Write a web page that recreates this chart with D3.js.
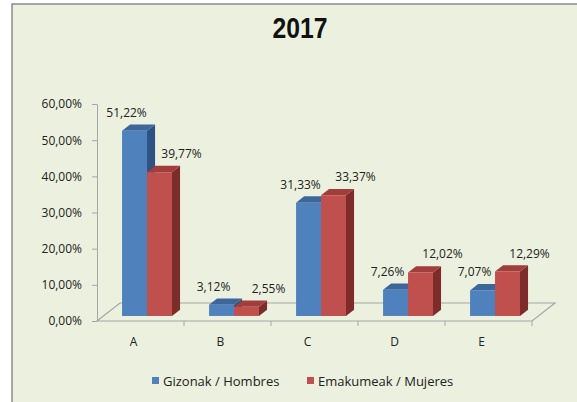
<!DOCTYPE html>
<html>
<head>
<meta charset="utf-8">
<script src="https://cdn.jsdelivr.net/npm/d3@7"></script>
<style>
  body { margin: 0; background: #fff; }
  text { font-family: 'Open Sans', sans-serif; fill: #222; }
</style>
</head>
<body>
<script>
const categories = ['A', 'B', 'C', 'D', 'E'];
const hombres = [51.22, 3.12, 31.33, 7.26, 7.07];
const mujeres = [39.77, 2.55, 33.37, 12.02, 12.29];
const seriesNames = ['Gizonak / Hombres', 'Emakumeak / Mujeres'];
const yTicks = [0, 10, 20, 30, 40, 50, 60];
const title = '2017';

let width = 577, height = 402;
let svg = d3.select('body').append('svg')
  .attr('width', width)
  .attr('height', height);

// chart frame
svg.append('rect')
  .attr('x', 12).attr('y', 4)
  .attr('width', 600).attr('height', 430)
  .attr('fill', '#ebf1de')
  .attr('stroke', '#8a8a8a')
  .attr('stroke-width', 1.5);

svg.append('text')
  .attr('x', 300).attr('y', 38)
  .attr('text-anchor', 'middle')
  .attr('textLength', 55)
  .attr('lengthAdjust', 'spacingAndGlyphs')
  .style('font-family', "'Liberation Sans', sans-serif")
  .style('font-weight', 'bold')
  .style('font-size', '29px')
  .style('fill', '#111')
  .text(title);

let x = d3.scaleBand().domain(categories).range([97, 532]);
let y = d3.scaleLinear().domain([0, 60]).range([321, 104]);
let DX = 23, DY = 18;          // depth of the floor
let f0 = 0.28, f1 = 0.63;      // depth slice used by the bars
let proj = (px, py, f) => [px + f * DX, py - f * DY];
let step = x.step(), barW = step * 0.287, barOff = step * 0.214;

let locale = d3.formatLocale({ decimal: ',', thousands: '.', grouping: [3], currency: ['', '€'] });
let fmt = v => locale.format('.2f')(v) + '%';

let colors = [
  { front: '#4f81bd', top: '#3d679b', side: '#2d5283' },
  { front: '#c0504d', top: '#a13e3b', side: '#7e2c2a' }
];

// floor
let x0 = x.range()[0], x1 = x.range()[1], yb = y(0);
let floor = [proj(x0, yb, 0), proj(x1, yb, 0), proj(x1, yb, 1), proj(x0, yb, 1)];
svg.append('polygon')
  .attr('points', floor.map(p => p.join(',')).join(' '))
  .attr('fill', 'none')
  .attr('stroke', '#a6a6a6')
  .attr('stroke-width', 1.2);

// category ticks on the front edge
svg.append('g').selectAll('line')
  .data(categories.slice(1).concat(['end']))
  .enter().append('line')
  .attr('x1', (d, i) => x0 + (i + 1) * step)
  .attr('x2', (d, i) => x0 + (i + 1) * step)
  .attr('y1', yb).attr('y2', yb + 5)
  .attr('stroke', '#a6a6a6');

svg.append('g').selectAll('text')
  .data(categories)
  .enter().append('text')
  .attr('x', d => x(d) + step / 2 - 7)
  .attr('y', 346)
  .attr('text-anchor', 'middle')
  .style('font-size', '12px')
  .text(d => d);

// y axis
let yAxis = svg.append('g')
  .attr('transform', 'translate(' + x0 + ',0)')
  .call(d3.axisLeft(y).tickValues(yTicks).tickSize(5).tickSizeOuter(0).tickPadding(10).tickFormat(fmt));
yAxis.select('.domain').attr('stroke', '#a6a6a6');
yAxis.selectAll('.tick line').attr('stroke', '#a6a6a6');
yAxis.selectAll('.tick text')
  .style('font-family', "'Open Sans', sans-serif")
  .style('font-size', '12px')
  .attr('fill', '#222');

// bars
let bars = [];
categories.forEach((c, i) => {
  [hombres[i], mujeres[i]].forEach((v, s) => {
    bars.push({ cat: c, value: v, series: s, bx: x(c) + barOff + s * barW });
  });
});

let g = svg.append('g');
bars.forEach(d => {
  let yv = y(d.value), c = colors[d.series];
  let a = proj(d.bx, yv, f0), b = proj(d.bx + barW, yv, f0),
      bb = proj(d.bx + barW, yb, f0), ab = proj(d.bx, yb, f0),
      b1 = proj(d.bx + barW, yv, f1), a1 = proj(d.bx, yv, f1), bb1 = proj(d.bx + barW, yb, f1);
  g.append('polygon')
    .attr('points', [b, bb, bb1, b1].map(p => p.join(',')).join(' '))
    .attr('fill', c.side);
  g.append('polygon')
    .attr('points', [a, b, b1, a1].map(p => p.join(',')).join(' '))
    .attr('fill', c.top);
  g.append('polygon')
    .attr('points', [a, b, bb, ab].map(p => p.join(',')).join(' '))
    .attr('fill', c.front);
});

// data labels
svg.append('g').selectAll('text')
  .data(bars)
  .enter().append('text')
  .attr('x', d => proj(d.bx + barW / 2, 0, f0)[0] + (d.series === 0 ? -8 : 22))
  .attr('y', d => proj(0, y(d.value), f0)[1] - 14)
  .attr('text-anchor', 'middle')
  .style('font-size', '12px')
  .text(d => fmt(d.value));

// legend
let legend = svg.append('g').selectAll('g')
  .data(seriesNames)
  .enter().append('g')
  .attr('transform', (d, i) => 'translate(' + (152 + i * 155) + ',377)');
legend.append('rect')
  .attr('width', 7).attr('height', 7)
  .attr('fill', (d, i) => colors[i].front);
legend.append('text')
  .attr('x', 11).attr('y', 8.5)
  .style('font-size', '13px')
  .text(d => d);
</script>
</body>
</html>
